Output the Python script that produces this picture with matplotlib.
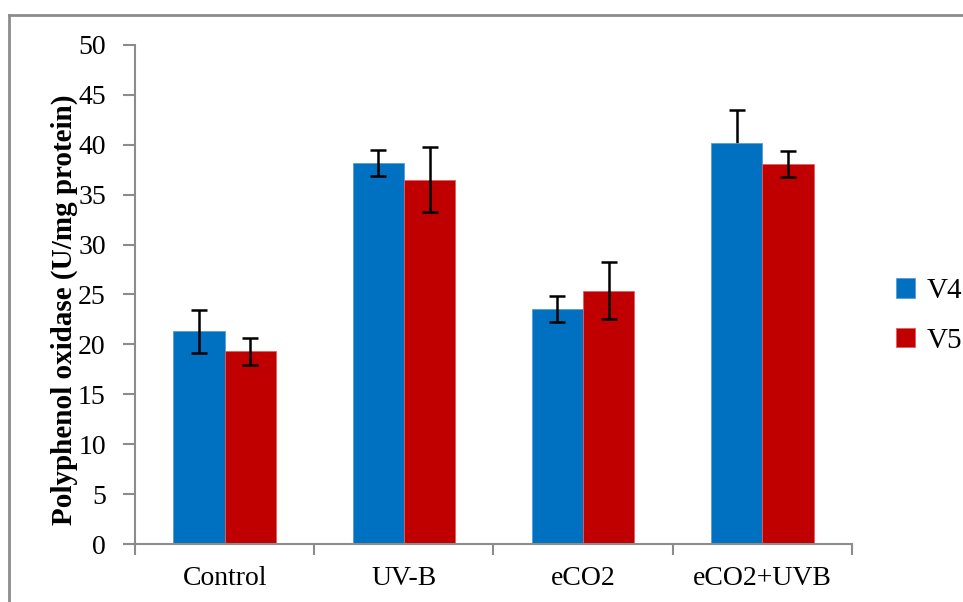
import numpy as np
import matplotlib.pyplot as plt
from matplotlib.lines import Line2D

plt.rcParams['font.family'] = ['Liberation Serif', 'DejaVu Serif']

# Data
categories = ['Control', 'UV-B', 'eCO2', 'eCO2+UVB']
v4 = [21.3, 38.2, 23.5, 40.2]
v5 = [19.3, 36.5, 25.4, 38.1]
v4_err = [2.15, 1.3, 1.3, 3.3]
v5_err = [1.35, 3.25, 2.85, 1.3]

fig = plt.figure(figsize=(9.63, 6.02), dpi=100)
ax = fig.add_axes([0.1402, 0.0963, 0.7445, 0.829])

x = np.arange(len(categories))
w = 0.286
gray = '#8c8c8c'

ax.bar(x - w / 2, v4, w, color='#0070c0', edgecolor='#5b9bd5', linewidth=0.6,
       label='V4', zorder=2)
ax.bar(x + w / 2, v5, w, color='#c00000', edgecolor='#e06060', linewidth=0.6,
       label='V5', zorder=2)

eb = dict(fmt='none', ecolor='black', elinewidth=1.8, capsize=6, capthick=1.8)
# last V4 bar hides the lower half of its error bar in the original
ax.errorbar(x[:3] - w / 2, v4[:3], yerr=v4_err[:3], zorder=3, **eb)
ax.errorbar(x[3:] - w / 2, v4[3:], yerr=v4_err[3:], zorder=1, **eb)
ax.errorbar(x + w / 2, v5, yerr=v5_err, zorder=3, **eb)

ax.set_xlim(-0.5, len(categories) - 0.5)
ax.set_ylim(0, 50)
ax.set_yticks(np.arange(0, 51, 5))
ax.set_xticks(x)
ax.set_xticklabels(categories)
ax.set_xticks(np.arange(-0.5, len(categories), 1), minor=True)
ax.tick_params(axis='x', which='major', length=0, pad=16, labelsize=20)
ax.tick_params(axis='x', which='minor', length=8, width=1.5, color=gray, direction='out')
ax.tick_params(axis='y', length=9, width=1.5, color=gray, labelsize=20, pad=12)

for s in ['top', 'right']:
    ax.spines[s].set_visible(False)
for s in ['left', 'bottom']:
    ax.spines[s].set_color(gray)
    ax.spines[s].set_linewidth(1.5)

ax.set_ylabel('Polyphenol oxidase (U/mg protein)', fontsize=21, fontweight='bold')
ax.yaxis.set_label_coords(-0.079, 0.47)

fig.legend(loc='center left', bbox_to_anchor=(0.93, 0.475), frameon=False,
           fontsize=21, handlelength=0.65, handleheight=0.65, handletextpad=0.4,
           labelspacing=0.8, borderpad=0, borderaxespad=0)

# outer frame of the chart area
fig.add_artist(Line2D([0.0093, 1.0], [0.975, 0.975], transform=fig.transFigure,
                      color=gray, linewidth=2))
fig.add_artist(Line2D([0.0093, 0.0093], [0.0, 0.975], transform=fig.transFigure,
                      color=gray, linewidth=2))

fig.savefig('out.png', dpi=100)
